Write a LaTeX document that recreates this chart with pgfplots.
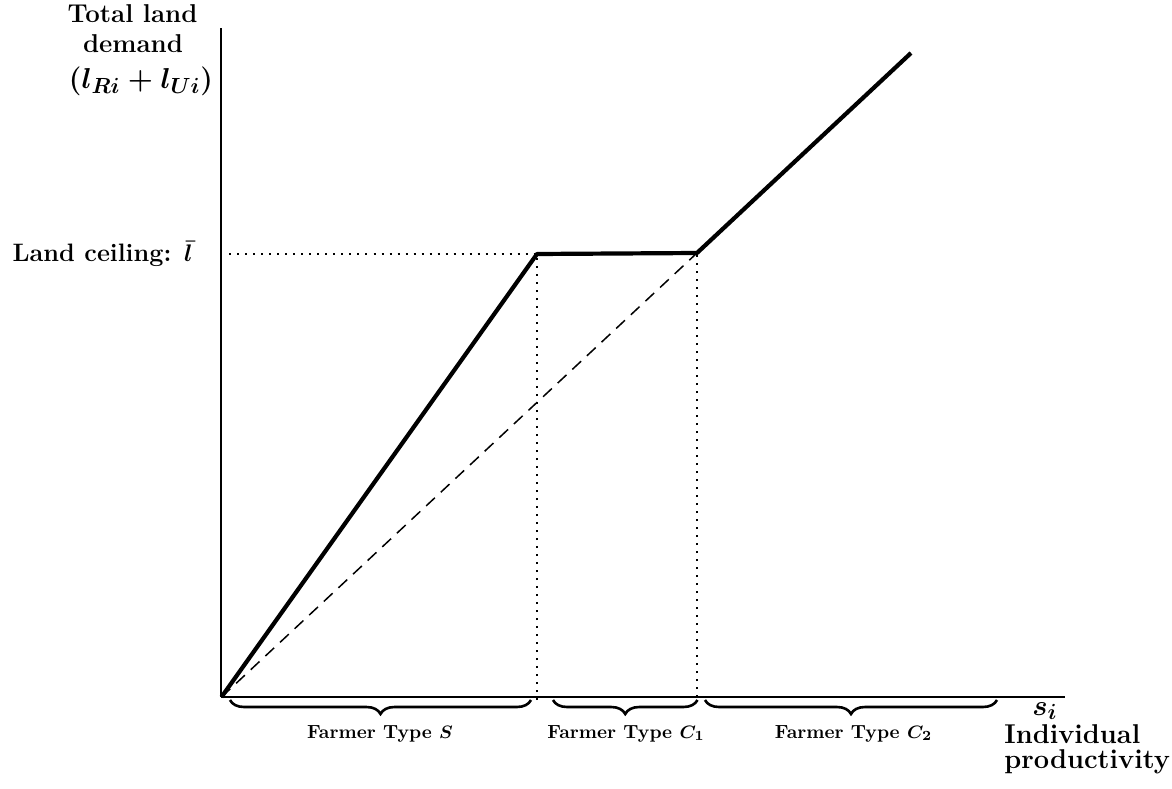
\documentclass[border=0pt]{standalone}
\usepackage{pgfplots}
\pgfplotsset{compat=1.18}
\usetikzlibrary{decorations.pathreplacing}
\begin{document}
\bfseries\boldmath
\begin{tikzpicture}
\begin{axis}[
  x=0.5pt, y=0.5pt,
  xmin=0, xmax=843.5, ymin=0, ymax=669,
  axis lines=left,
  axis line style={-, line width=1pt},
  xtick=\empty, ytick=\empty,
  clip=false,
]
% dotted guides
\addplot[line width=1pt, dash pattern=on 1pt off 3pt] coordinates {(8,443) (315.5,443)};
\addplot[line width=1pt, dash pattern=on 1pt off 3pt] coordinates {(315.5,-3) (315.5,443)};
\addplot[line width=1pt, dash pattern=on 1pt off 3pt] coordinates {(475.5,0) (475.5,444)};
% dashed line
\addplot[line width=0.75pt, dash pattern=on 6pt off 4pt] coordinates {(0,0) (475.5,444)};
% total land demand
\addplot[line width=2.1pt, line join=round] coordinates {(0,0) (315.5,443) (475.5,444) (689.5,644)};
% braces
\draw[line width=1.3pt, decorate, decoration={brace, mirror, amplitude=7pt}] (axis cs:8.5,-3) -- (axis cs:309.5,-3);
\draw[line width=1.3pt, decorate, decoration={brace, mirror, amplitude=7pt}] (axis cs:331.5,-3) -- (axis cs:476,-3);
\draw[line width=1.3pt, decorate, decoration={brace, mirror, amplitude=7pt}] (axis cs:483.5,-3) -- (axis cs:775.5,-3);
\node[anchor=base, font=\fontsize{9.5}{11}\selectfont\bfseries] at (axis cs:158.5,-41) {Farmer Type $S$};
\node[anchor=base, font=\fontsize{9.5}{11}\selectfont\bfseries] at (axis cs:404.5,-41) {Farmer Type $C_1$};
\node[anchor=base, font=\fontsize{9.5}{11}\selectfont\bfseries] at (axis cs:632,-41) {Farmer Type $C_2$};
% axis labels
\node[anchor=base, font=\fontsize{15}{17}\selectfont\bfseries] at (axis cs:823.5,-18) {$s_i$};
\node[anchor=base west, inner sep=0pt, font=\fontsize{13.6}{16}\selectfont\bfseries] at (axis cs:782.5,-46) {Individual};
\node[anchor=base west, inner sep=0pt, font=\fontsize{13.6}{16}\selectfont\bfseries] at (axis cs:782.5,-71) {productivity};
\node[anchor=base, font=\fontsize{12.9}{15}\selectfont\bfseries] at (axis cs:-89,674) {Total land};
\node[anchor=base, font=\fontsize{12.9}{15}\selectfont\bfseries] at (axis cs:-88.5,644) {demand};
\node[anchor=base, font=\fontsize{15.5}{17}\selectfont\bfseries] at (axis cs:-80.5,608) {$(l_{Ri}+l_{Ui})$};
\node[anchor=base east, inner sep=0pt, font=\fontsize{12.6}{15}\selectfont\bfseries] at (axis cs:-28.5,435) {Land ceiling: $\bar{l}$};
\end{axis}
\pgfresetboundingbox
\path[use as bounding box] (-110.75pt,-45.5pt) rectangle (475.25pt,348.5pt);
\end{tikzpicture}
\end{document}
